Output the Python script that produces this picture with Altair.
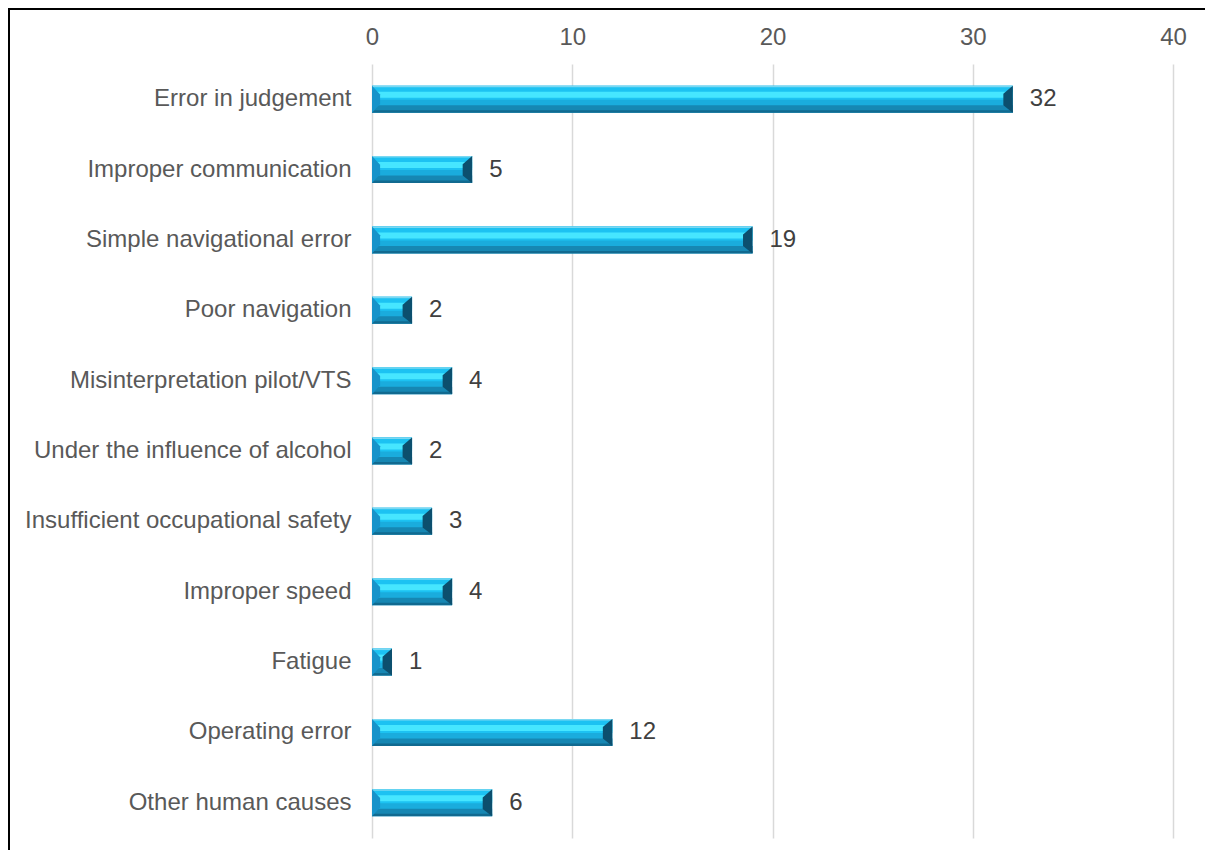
import altair as alt
import pandas as pd

categories = [
    "Error in judgement",
    "Improper communication",
    "Simple navigational error",
    "Poor navigation",
    "Misinterpretation pilot/VTS",
    "Under the influence of alcohol",
    "Insufficient occupational safety",
    "Improper speed",
    "Fatigue",
    "Operating error",
    "Other human causes",
]
values = [32, 5, 19, 2, 4, 2, 3, 4, 1, 12, 6]
x_ticks = [0, 10, 20, 30, 40]

df = pd.DataFrame({"cause": categories, "count": values})
df["zero"] = 0

W, H = 801, 774
FONT = "Liberation Sans"
TXT = "#595959"

y_enc = alt.Y(
    "cause:N",
    sort=categories,
    scale=alt.Scale(paddingInner=0, paddingOuter=0),
    axis=alt.Axis(title=None, labelFontSize=24, labelColor=TXT, labelFont=FONT,
                  labelPadding=21, ticks=False, domain=False, labelLimit=500, grid=False),
)
x_axis = alt.Axis(orient="top", values=x_ticks, title=None, labelFontSize=24,
                  labelColor=TXT, labelFont=FONT, ticks=False, domain=False,
                  labelFlush=False, grid=True, gridColor="#D9D9D9", gridWidth=1.5,
                  labelPadding=15)
x_scale = alt.Scale(domain=[0, 40], nice=False)


def xq(field):
    return alt.X(f"{field}:Q", scale=x_scale, axis=x_axis)


base = alt.Chart(df)


def band(size, offset, color):
    return base.mark_bar(size=size, yOffset=offset, color=color).encode(x=xq("count"), y=y_enc)


bars = [
    band(27, 0, "#1AACDD"),
    band(14, -6.5, "#1CC2F2"),
    band(6, -4.5, "#46E6FF"),
    band(7, 9.5, "#1687B3"),
    band(2.5, 12.25, "#116A90"),
    band(1.5, -12.75, "#7AD8F2"),
]

left_bevel = base.mark_point(
    shape="M-1,-1L-0.4,-0.35L-0.4,0.35L-1,1Z", size=729, filled=True, opacity=1,
    strokeWidth=0, color="#1793CA", xOffset=13.5,
).encode(x=xq("zero"), y=y_enc)

right_bevel = base.mark_point(
    shape="M1,-1L0.3,-0.4L0.3,0.45L1,1Z", size=729, filled=True, opacity=1,
    strokeWidth=0, color="#0C4F6E", xOffset=-13.5,
).encode(x=xq("count"), y=y_enc)

labels = base.mark_text(
    align="left", baseline="middle", dx=17, fontSize=24, font=FONT, color="#404040",
).encode(x=xq("count"), y=y_enc, text="count:Q")

frame_data = alt.Chart(pd.DataFrame({"k": [0]}))
top_border = frame_data.mark_rule(color="black", strokeWidth=2).encode(
    x=alt.value(-364), x2=alt.value(W + 32), y=alt.value(-55), y2=alt.value(-55)
)
left_border = frame_data.mark_rule(color="black", strokeWidth=2).encode(
    x=alt.value(-363), x2=alt.value(-363), y=alt.value(-56), y2=alt.value(H + 12)
)

chart = alt.layer(*bars, left_bevel, right_bevel, labels, top_border, left_border).properties(
    width=W,
    height=H,
    autosize=alt.AutoSizeParams(type="none"),
    padding={"left": 364, "top": 56, "right": 32, "bottom": 12},
    background="white",
).configure_view(stroke=None)

chart.save("out.html", embed_options={"renderer": "svg", "actions": False})
